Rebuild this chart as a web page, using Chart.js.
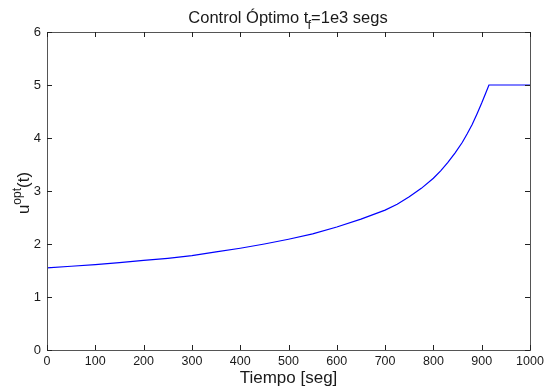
<!DOCTYPE html>
<html>
<head>
<meta charset="utf-8">
<script src="https://cdn.jsdelivr.net/npm/chart.js@4.4.1/dist/chart.umd.min.js"></script>
<style>
html,body{margin:0;padding:0;background:#fff;}
#wrap{width:545px;height:387px;position:relative;}
</style>
</head>
<body>
<div id="wrap"><canvas id="c" width="545" height="387"></canvas></div>
<script>
// Data
const timeValues = [0, 50, 100, 150, 200, 250, 300, 350, 400, 450, 500, 550, 600, 650, 700, 725, 750, 775, 800, 815, 830, 845, 860, 870, 880, 890, 900, 908, 915, 950, 1000];
const uOptValues = [1.55, 1.58, 1.61, 1.65, 1.69, 1.73, 1.78, 1.85, 1.92, 2.00, 2.09, 2.19, 2.32, 2.47, 2.64, 2.75, 2.89, 3.05, 3.24, 3.38, 3.54, 3.72, 3.92, 4.08, 4.25, 4.45, 4.66, 4.84, 5.0, 5.0, 5.0];
const xTicks = [0, 100, 200, 300, 400, 500, 600, 700, 800, 900, 1000];
const yTicks = [0, 1, 2, 3, 4, 5, 6];
const titleMain = "Control Óptimo t";
const titleSub = "f";
const titleRest = "=1e3 segs";
const xLabel = "Tiempo [seg]";
const yLabelBase = "u";
const yLabelSup = "opt";
const yLabelRest = "(t)";

const FONT = '"Liberation Sans", Arial, sans-serif';
const TXT = '#1a1a1a';

const points = timeValues.map((t, i) => ({x: t, y: uOptValues[i]}));

const decorPlugin = {
  id: 'decor',
  afterDraw(chart) {
    const ctx = chart.ctx;
    const a = chart.chartArea;
    const xs = chart.scales.x, ys = chart.scales.y;
    ctx.save();
    // box
    ctx.strokeStyle = '#555';
    ctx.lineWidth = 1;
    ctx.strokeRect(Math.round(a.left) + 0.5, Math.round(a.top) + 0.5, Math.round(a.right - a.left), Math.round(a.bottom - a.top));
    // inward ticks
    ctx.strokeStyle = '#222';
    const L = 5;
    ctx.beginPath();
    xTicks.forEach(v => {
      const px = Math.round(xs.getPixelForValue(v)) + 0.5;
      ctx.moveTo(px, a.bottom); ctx.lineTo(px, a.bottom - L);
      ctx.moveTo(px, a.top); ctx.lineTo(px, a.top + L);
    });
    yTicks.forEach(v => {
      const py = Math.round(ys.getPixelForValue(v)) + 0.5;
      ctx.moveTo(a.left, py); ctx.lineTo(a.left + L, py);
      ctx.moveTo(a.right, py); ctx.lineTo(a.right - L, py);
    });
    ctx.stroke();

    ctx.fillStyle = TXT;
    // title with subscript
    const f1 = '16.5px ' + FONT, f2 = '13px ' + FONT;
    ctx.font = f1;
    const w1 = ctx.measureText(titleMain).width;
    const w3 = ctx.measureText(titleRest).width;
    ctx.font = f2;
    const w2 = ctx.measureText(titleSub).width;
    const total = w1 + w2 + w3;
    let x0 = (a.left + a.right) / 2 - total / 2;
    const by = 23;
    ctx.textBaseline = 'alphabetic';
    ctx.textAlign = 'left';
    ctx.font = f1; ctx.fillText(titleMain, x0, by);
    ctx.font = f2; ctx.fillText(titleSub, x0 + w1 - 1, by + 6);
    ctx.font = f1; ctx.fillText(titleRest, x0 + w1 + w2 - 1, by);

    // x label
    ctx.font = '17px ' + FONT;
    ctx.textAlign = 'center';
    ctx.fillText(xLabel, (a.left + a.right) / 2, 383);

    // y label rotated with superscript
    ctx.save();
    ctx.translate(23, (a.top + a.bottom) / 2 + 2);
    ctx.rotate(-Math.PI / 2);
    const g1 = '17px ' + FONT, g2 = '12px ' + FONT;
    ctx.font = g1;
    const u1 = ctx.measureText(yLabelBase).width;
    const u3 = ctx.measureText(yLabelRest).width;
    ctx.font = g2;
    const u2 = ctx.measureText(yLabelSup).width;
    let s = -(u1 + u2 + u3) / 2;
    ctx.textAlign = 'left';
    ctx.font = g1; ctx.fillText(yLabelBase, s, 6);
    ctx.font = g2; ctx.fillText(yLabelSup, s + u1, -2);
    ctx.font = g1; ctx.fillText(yLabelRest, s + u1 + u2, 6);
    ctx.restore();
    ctx.restore();
  }
};

new Chart(document.getElementById('c'), {
  type: 'line',
  data: {
    datasets: [{
      data: points,
      borderColor: '#0000ff',
      borderWidth: 1.2,
      pointRadius: 0,
      fill: false,
      tension: 0
    }]
  },
  options: {
    responsive: false,
    animation: false,
    devicePixelRatio: 1,
    layout: {padding: {top: 32, right: 15, left: 0, bottom: 0}},
    plugins: {legend: {display: false}, tooltip: {enabled: false}, title: {display: false}},
    scales: {
      x: {
        type: 'linear', min: 0, max: 1000,
        afterBuildTicks: s => { s.ticks = xTicks.map(v => ({value: v})); },
        afterFit: s => { s.height = 37; s.paddingRight = 0; },
        grid: {display: false, drawTicks: false},
        border: {display: false},
        ticks: {color: TXT, font: {family: FONT, size: 12.5}, padding: 4, maxRotation: 0, autoSkip: false, callback: v => String(v)}
      },
      y: {
        type: 'linear', min: 0, max: 6,
        afterBuildTicks: s => { s.ticks = yTicks.map(v => ({value: v})); },
        afterFit: s => { s.width = 47; },
        grid: {display: false, drawTicks: false},
        border: {display: false},
        ticks: {color: TXT, font: {family: FONT, size: 13}, padding: 6, callback: v => String(v)}
      }
    }
  },
  plugins: [decorPlugin]
});
</script>
</body>
</html>
